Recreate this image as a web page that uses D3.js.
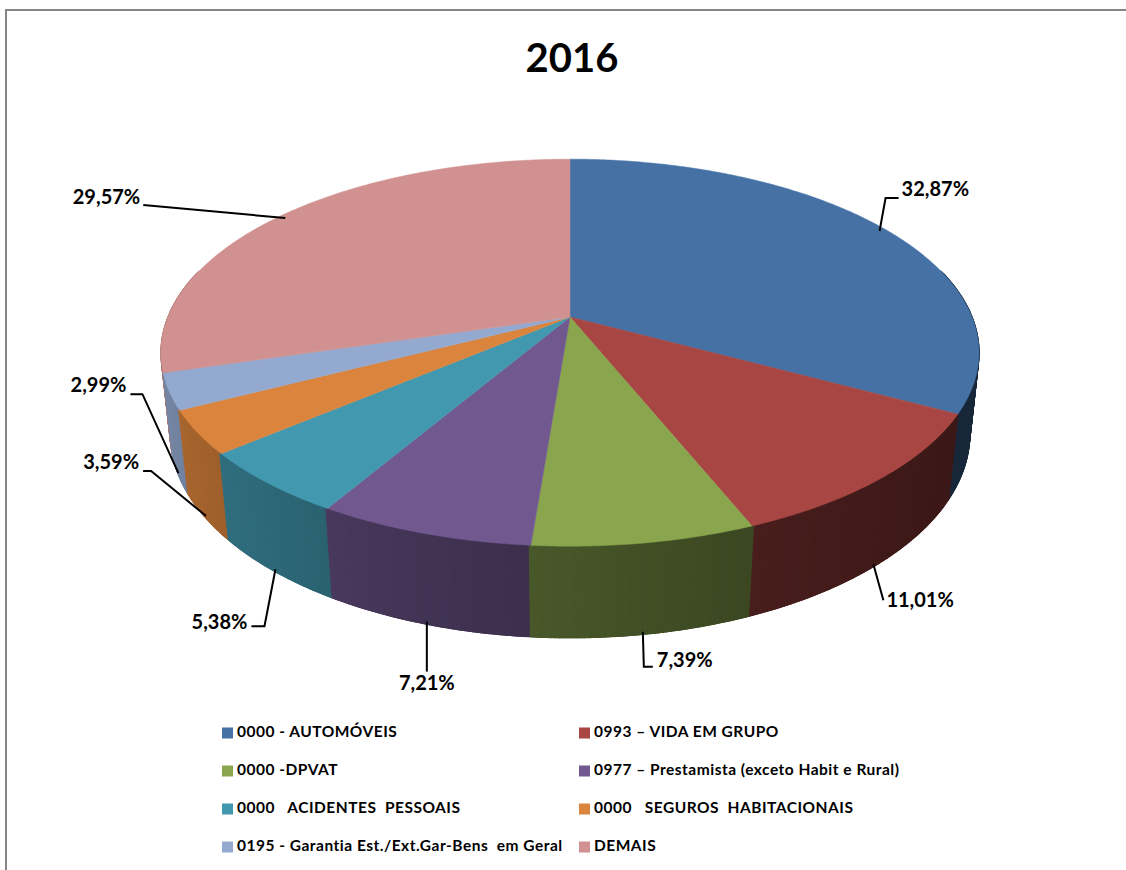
<!DOCTYPE html>
<html>
<head>
<meta charset="utf-8">
<script src="https://cdn.jsdelivr.net/npm/d3@7"></script>
<style>
  body { margin: 0; background: #fff; }
  text { font-family: Lato, "Open Sans", sans-serif; white-space: pre; }
</style>
</head>
<body>
<svg id="chart" width="1126" height="870"></svg>
<script>
// dados
var categorias = [
    "0000 - AUTOMÓVEIS",
    "0993 – VIDA EM GRUPO",
    "0000 -DPVAT",
    "0977 – Prestamista (exceto Habit e Rural)",
    "0000   ACIDENTES  PESSOAIS",
    "0000   SEGUROS  HABITACIONAIS",
    "0195 - Garantia Est./Ext.Gar-Bens  em Geral",
    "DEMAIS"
];
var valores = [32.87, 11.01, 7.39, 7.21, 5.38, 3.59, 2.99, 29.57];
var cores = ["#4571a5", "#a84643", "#89a54e", "#71588f", "#4298af", "#db843d", "#93a9cf", "#d09190"];
var titulo = "2016";

// posição dos rótulos: [dx cotovelo, dy cotovelo, trecho horizontal, âncora, dx texto, dy texto]
var rotuloLayout = [
    [6, -33, 13, "start", 3, -7],
    [10, 36, 0, "start", 3, 2],
    [1, 35, 9, "start", 4, -5],
    [0, 50, 0, "middle", 0, 13],
    [-11, 57, -13, "end", -4, -2],
    [-55, -45, -8, "end", -4, -7],
    [-36, -79, -12, "end", -4, -7],
    [-142, -13, 0, "end", -3, -6]
];

var svg = d3.select("#chart");

// moldura
svg.append("path")
    .attr("d", "M6,871 L6,10 L1127,10")
    .attr("fill", "none")
    .attr("stroke", "#868686")
    .attr("stroke-width", 2);

svg.append("text")
    .attr("x", 572)
    .attr("y", 62)
    .attr("text-anchor", "middle")
    .attr("dominant-baseline", "middle")
    .attr("font-size", 40)
    .attr("font-weight", "bold")
    .text(titulo);

// projeção em perspectiva da pizza 3D
var cx = 570, cy = 317, escala = 402;
var sinF = 0.465, cosF = 0.885, dist = 4.8, altura = 0.23;

function proj(ang, r, nivel) {
    var x = r * Math.sin(ang), z = -r * Math.cos(ang), y = -nivel;
    var yl = y * cosF - z * sinF;
    var zl = y * sinF + z * cosF;
    var k = 1 / (1 - zl / dist);
    return [cx + escala * x * k, cy - escala * yl * k];
}

var pie = d3.pie().sort(null).value(function (d) { return d; });
var fatias = pie(valores);

function corDoAngulo(a) {
    for (var i = 0; i < fatias.length; i++) {
        if (a >= fatias[i].startAngle && a < fatias[i].endAngle) return i;
    }
    return fatias.length - 1;
}

// lateral em tiras finas, sombreadas conforme o ângulo
var passo = Math.PI / 360;
var tiras = [];
for (var a = 0; a < 2 * Math.PI - 1e-9; a += passo) {
    var b = Math.min(a + passo, 2 * Math.PI);
    var meio = (a + b) / 2;
    if (-Math.cos(meio) < -0.25) continue;
    var i = corDoAngulo(meio);
    var fator = 0.6 + 0.25 * Math.cos(meio - 290 * Math.PI / 180);
    var c = d3.rgb(cores[i]);
    var cor = d3.rgb(c.r * fator, c.g * fator, c.b * fator);
    tiras.push({ a: a, b: b, z: -Math.cos(meio), cor: cor.toString() });
}
tiras.sort(function (p, q) { return p.z - q.z; });

var gLado = svg.append("g");
tiras.forEach(function (t) {
    // estende um pouco a tira para não deixar frestas
    var p1 = proj(t.a - 0.004, 1, 0), p2 = proj(t.b + 0.004, 1, 0),
        p3 = proj(t.b + 0.004, 1, altura), p4 = proj(t.a - 0.004, 1, altura);
    gLado.append("path")
        .attr("d", "M" + p1 + "L" + p2 + "L" + p3 + "L" + p4 + "Z")
        .attr("fill", t.cor)
        .attr("stroke", t.cor)
        .attr("stroke-width", 1.2);
});

// faces superiores
var gTopo = svg.append("g");
fatias.forEach(function (f, i) {
    var path = d3.path();
    var c0 = proj(0, 0, 0);
    path.moveTo(c0[0], c0[1]);
    var n = Math.max(2, Math.ceil((f.endAngle - f.startAngle) / 0.01));
    for (var k = 0; k <= n; k++) {
        var ang = f.startAngle + (f.endAngle - f.startAngle) * k / n;
        var p = proj(ang, 1, 0);
        path.lineTo(p[0], p[1]);
    }
    path.closePath();
    gTopo.append("path")
        .attr("d", path.toString())
        .attr("fill", cores[i])
        .attr("stroke", cores[i])
        .attr("stroke-width", 0.5);
});

// rótulos com linhas de chamada
var fmt = function (v) { return v.toFixed(2).replace(".", ",") + "%"; };
var gRot = svg.append("g");
fatias.forEach(function (f, i) {
    var meio = (f.startAngle + f.endAngle) / 2;
    var frente = -Math.cos(meio) > 0;
    var ini = frente ? proj(meio, 1, altura * 0.97) : proj(meio, 0.98, 0);
    var L = rotuloLayout[i];
    var cot = [ini[0] + L[0], ini[1] + L[1]];
    var fim = [cot[0] + L[2], cot[1]];
    gRot.append("path")
        .attr("d", "M" + ini + "L" + cot + "L" + fim)
        .attr("fill", "none")
        .attr("stroke", "#000")
        .attr("stroke-width", 2);
    gRot.append("text")
        .attr("x", fim[0] + L[4])
        .attr("y", fim[1] + L[5])
        .attr("text-anchor", L[3])
        .attr("dominant-baseline", "middle")
        .attr("font-size", 20)
        .attr("font-weight", "bold")
        .text(fmt(valores[i]));
});

// legenda
var colX = [222, 579];
var linhaY = d3.scalePoint().domain(d3.range(4)).range([733, 847]);
var gLeg = svg.append("g");
categorias.forEach(function (nome, i) {
    var x = colX[i % 2], y = linhaY(Math.floor(i / 2));
    gLeg.append("rect")
        .attr("x", x)
        .attr("y", y - 5.5)
        .attr("width", 11)
        .attr("height", 11)
        .attr("fill", cores[i]);
    gLeg.append("text")
        .attr("x", x + 15)
        .attr("y", y)
        .attr("dominant-baseline", "middle")
        .attr("font-size", 15.5)
        .attr("font-weight", "bold")
        .attr("letter-spacing", 0.5)
        .text(nome);
});
</script>
</body>
</html>
